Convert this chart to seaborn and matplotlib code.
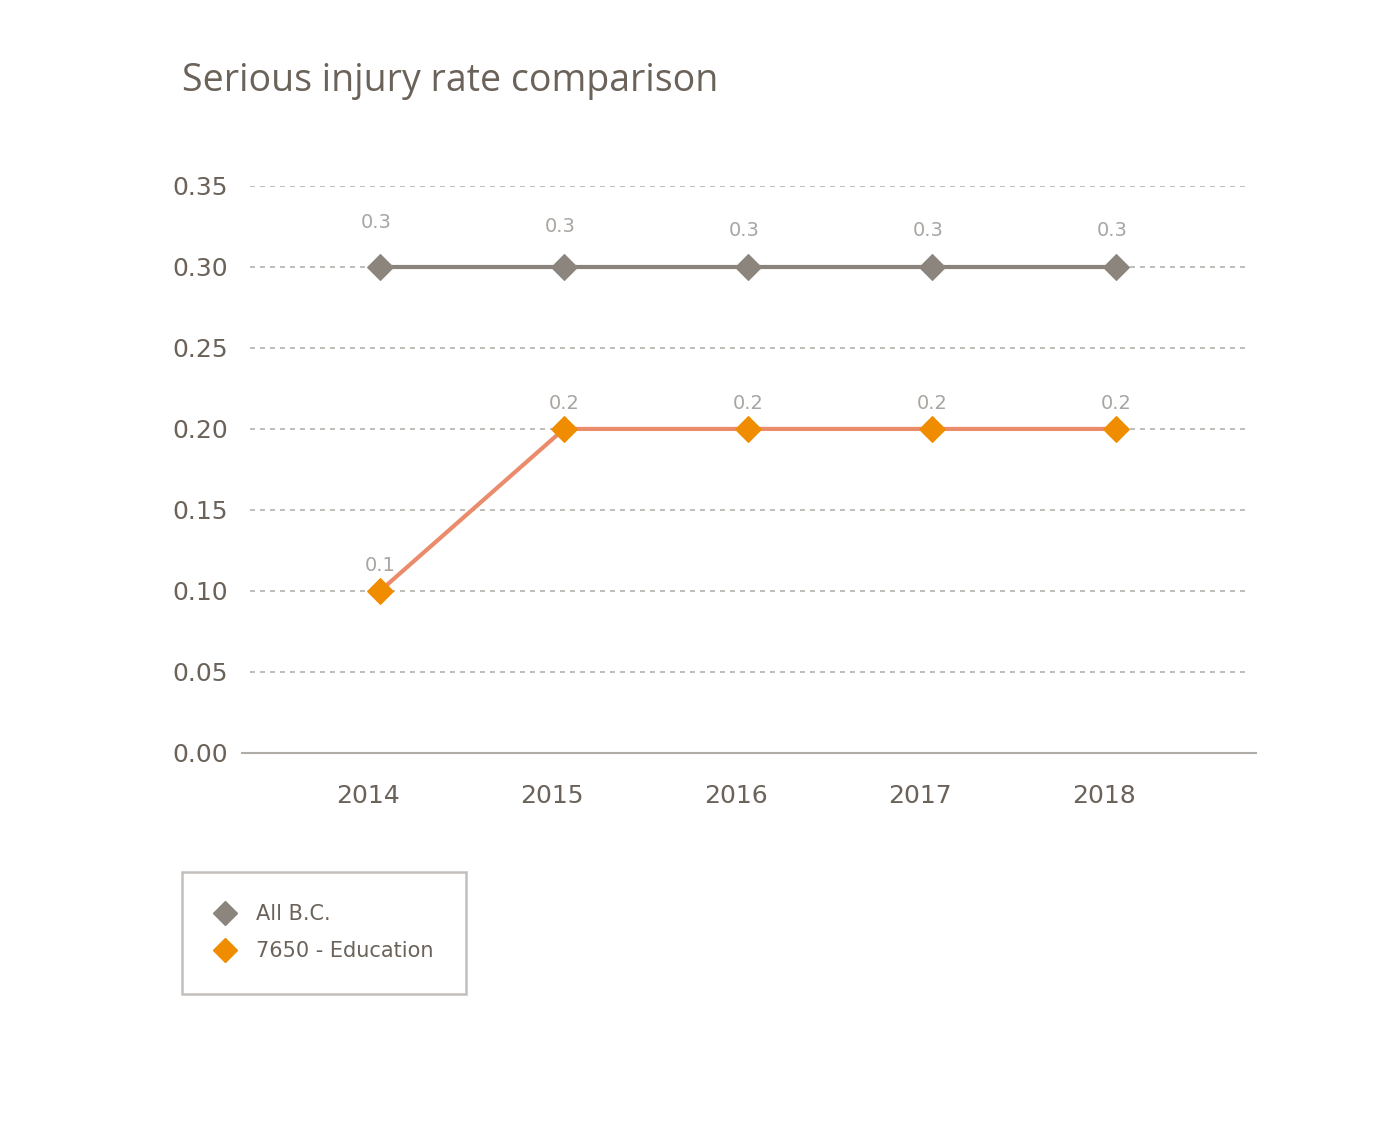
import numpy as np
import pandas as pd
import matplotlib
matplotlib.use("Agg")
import matplotlib.pyplot as plt
import matplotlib.transforms as mtransforms
from matplotlib.lines import Line2D
import seaborn as sns

years = ["2014", "2015", "2016", "2017", "2018"]
all_bc = [0.3, 0.3, 0.3, 0.3, 0.3]
education = [0.1, 0.2, 0.2, 0.2, 0.2]
series_names = ["All B.C.", "7650 - Education"]
y_ticks = [0.00, 0.05, 0.10, 0.15, 0.20, 0.25, 0.30, 0.35]

text_col = "#6b6259"
label_col = "#a9a5a1"
grid_col = "#b5b1ad"
gray_line = "#89837b"
gray_mark = "#8b857d"
orange_line = "#ea8c6c"
orange_mark = "#ef8c00"

sns.set_theme(style="white")
plt.rcParams["font.family"] = ["DejaVu Sans"]

df = pd.DataFrame({
    "idx": list(range(len(years))) * 2,
    "value": all_bc + education,
    "series": [series_names[0]] * len(years) + [series_names[1]] * len(years),
})

fig = plt.figure(figsize=(13.8, 11.35), dpi=100)
ax = fig.add_axes([0.1754, 0.3366, 0.7348, 0.4996])

# gridlines (dashed), slightly inset from the axis ends
for t in y_ticks[1:]:
    ax.axhline(t, xmin=0.008, xmax=0.992, color=grid_col, lw=1.2,
               ls=(0, (3, 3)), zorder=1)

sub = df[df.series == series_names[0]]
sns.lineplot(data=sub, x="idx", y="value", ax=ax, color=gray_line, lw=3,
             marker="D", markersize=13, markerfacecolor=gray_mark,
             markeredgecolor=gray_mark, legend=False, zorder=3)
sub = df[df.series == series_names[1]]
sns.lineplot(data=sub, x="idx", y="value", ax=ax, color=orange_line, lw=3,
             marker="D", markersize=13, markerfacecolor=orange_mark,
             markeredgecolor=orange_mark, legend=False, zorder=4)

# data labels
for i, v in enumerate(all_bc):
    ax.annotate(f"{v:.1f}", (i, v), xytext=(-3, 32 - min(i, 2) * 2.8),
                textcoords="offset points", ha="center", va="center",
                fontsize=14, color=label_col)
for i, v in enumerate(education):
    ax.annotate(f"{v:.1f}", (i, v), xytext=(0, 18),
                textcoords="offset points", ha="center", va="center",
                fontsize=14, color=label_col)

ax.set_xlim(-0.75, 4.761)
ax.set_ylim(0, 0.35)
ax.set_xticks(range(len(years)))
ax.set_xticklabels(years)
ax.set_yticks(y_ticks)
ax.set_yticklabels([f"{t:.2f}" for t in y_ticks])
ax.tick_params(axis="both", length=0, labelsize=18, labelcolor=text_col)
ax.tick_params(axis="x", pad=22)
ax.tick_params(axis="y", pad=10)
offset = mtransforms.ScaledTranslation(-12 / 100, 0, fig.dpi_scale_trans)
for lbl in ax.get_xticklabels():
    lbl.set_transform(lbl.get_transform() + offset)
ax.set_xlabel("")
ax.set_ylabel("")
for s in ["top", "right", "left"]:
    ax.spines[s].set_visible(False)
ax.spines["bottom"].set_color("#b0aca8")
ax.spines["bottom"].set_linewidth(1.5)
ax.grid(False)

fig.text(182 / 1380, 1 - 81 / 1135, "Serious injury rate comparison",
         fontsize=27, color=text_col, family=["Open Sans", "DejaVu Sans"],
         va="center", ha="left")

handles = [
    Line2D([], [], ls="none", marker="D", markersize=12,
           markerfacecolor=gray_mark, markeredgecolor=gray_mark),
    Line2D([], [], ls="none", marker="D", markersize=12,
           markerfacecolor=orange_mark, markeredgecolor=orange_mark),
]
leg = fig.legend(handles, series_names, loc="upper left",
                 bbox_to_anchor=(182 / 1380, 1 - 872 / 1135),
                 frameon=True, fancybox=False, fontsize=15,
                 labelcolor=text_col, borderpad=1.55, handletextpad=1.0,
                 labelspacing=0.82, handlelength=1.0, borderaxespad=0)
leg.get_frame().set_edgecolor("#b3afab")
leg.get_frame().set_linewidth(1.8)

fig.savefig("out.png", dpi=100, facecolor="white")
